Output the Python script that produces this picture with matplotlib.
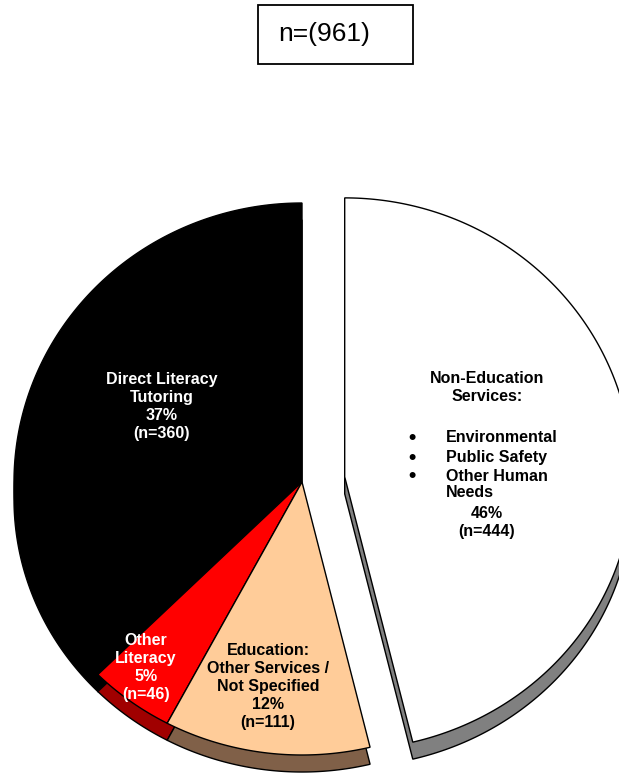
import matplotlib
matplotlib.use("Agg")
import matplotlib.pyplot as plt
import numpy as np
from matplotlib.patches import Polygon, Rectangle

plt.rcParams["font.family"] = ["Liberation Sans", "DejaVu Sans"]

# 服務類別與人數
categories = ["Direct Literacy\nTutoring", "Other\nLiteracy",
              "Education:\nOther Services /\nNot Specified", "Non-Education"]
counts = np.array([360, 46, 111, 444])
top_colors = ["#000000", "#ff0000", "#ffcc99", "#ffffff"]
side_colors = ["#000000", "#a00000", "#806048", "#808080"]
text_colors = ["white", "white", "black", "black"]
bullets = ["Environmental", "Public Safety", "Other Human\nNeeds"]

W, H = 619, 777
fig = plt.figure(figsize=(W / 100, H / 100), dpi=100)
ax = fig.add_axes([0, 0, 1, 1])
ax.set_xlim(0, W)
ax.set_ylim(0, H)
ax.axis("off")


def Y(y):
    # 以畫面像素 (由上往下) 換算成座標
    return H - y


cx, cy = 302.0, Y(482)
rx, ry_up, ry_low = 288, 279, 273  # 立體透視: 上半較高, 下半較扁
depth = 17
explode_dist = 43

total = counts.sum()
pct = counts / total * 100
angles = 90 + np.concatenate([[0], np.cumsum(counts / total * 360)])


def slice_pts(c, t1, t2):
    t = np.radians(np.linspace(t1, t2, 200))
    ry = np.where(np.sin(t) >= 0, ry_up, ry_low)
    xs = c[0] + rx * np.cos(t)
    ys = c[1] + ry * np.sin(t)
    return np.vstack([[c], np.column_stack([xs, ys])])


centers = []
for i in range(len(counts)):
    c = np.array([cx, cy])
    if i == 3:
        mid = np.radians((angles[i] + angles[i + 1]) / 2)
        c = c + explode_dist * np.array([np.cos(mid), np.sin(mid)])
    centers.append(c)

# 側面 (往下平移的厚度)
for i in range(len(counts)):
    pts = slice_pts(centers[i], angles[i], angles[i + 1]) - [0, depth]
    ax.add_patch(Polygon(pts, closed=True, facecolor=side_colors[i],
                         edgecolor="black", lw=1.0, zorder=1))

# 上表面
for i in range(len(counts)):
    pts = slice_pts(centers[i], angles[i], angles[i + 1])
    ax.add_patch(Polygon(pts, closed=True, facecolor=top_colors[i],
                         edgecolor="black", lw=1.0, zorder=2))

fs = 11.5
ls = 1.24
# 各區塊的標籤
label_pos = [(162, 372), (146, 633), (268, 643)]
for i, (x, y) in enumerate(label_pos):
    ax.text(x, Y(y), f"{categories[i]}\n{pct[i]:.0f}%\n(n={counts[i]})",
            ha="center", va="top", fontsize=fs, fontweight="bold",
            color=text_colors[i], linespacing=ls, zorder=5)

ax.text(487, Y(371), "Non-Education\nServices:", ha="center", va="top",
        fontsize=fs, fontweight="bold", linespacing=ls, zorder=5)
by = [430, 450, 469]
for b, y in zip(bullets, by):
    ax.text(412, Y(y + 8), "\u2022", ha="center", va="center", fontsize=15,
            fontweight="bold", zorder=5)
    ax.text(446, Y(y), b, ha="left", va="top", fontsize=fs,
            fontweight="bold", linespacing=1.08, zorder=5)
ax.text(487, Y(506), f"{pct[3]:.0f}%\n(n={counts[3]})", ha="center", va="top",
        fontsize=fs, fontweight="bold", linespacing=ls, zorder=5)

# 上方總數方框
ax.add_patch(Rectangle((258, Y(64)), 155, 59, facecolor="white",
                       edgecolor="black", lw=1.3, zorder=5))
ax.text(324, Y(34), f"n=({total})", ha="center", va="center",
        fontsize=19, zorder=6)

fig.savefig("out.png", dpi=100)
